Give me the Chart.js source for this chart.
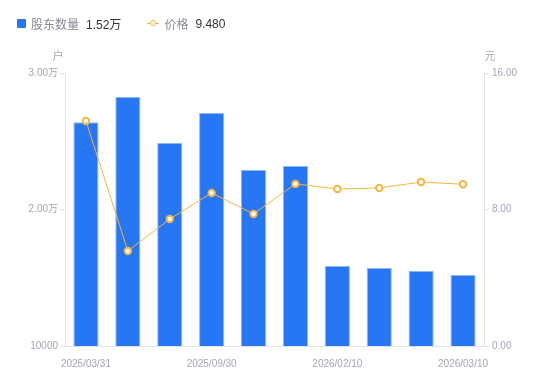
<!DOCTYPE html>
<html>
<head>
<meta charset="utf-8">
<script src="https://cdn.jsdelivr.net/npm/chart.js@4/dist/chart.umd.min.js"></script>
<style>
  body { margin: 0; background: #fff; font-family: "Liberation Sans", "Noto Sans CJK SC", sans-serif; }
  #wrap { position: relative; width: 550px; height: 381px; }
  #legend { position: absolute; left: 17px; top: 15px; font-size: 12px; color: #888a99; display: flex; align-items: center; }
  #legend .item { display: flex; align-items: center; margin-right: 26px; }
  #legend .sq { width: 9px; height: 9px; background: #2776f4; border-radius: 1px; margin-right: 5px; }
  #legend .ln { position: relative; width: 12px; height: 9px; margin-right: 5px; }
  #legend .ln:before { content: ''; position: absolute; left: 0; right: 0; top: 4px; height: 1px; background: #f5b540; }
  #legend .ln:after { content: ''; position: absolute; left: 3px; top: 1px; width: 4px; height: 4px; border: 1.5px solid #f5b540; border-radius: 50%; background: #fff; }
  #legend .val { color: #333; margin-left: 7px; }
</style>
</head>
<body>
<div id="wrap">
  <canvas id="c" width="550" height="381"></canvas>
  <div id="legend">
    <div class="item"><span class="sq"></span>股东数量<span class="val">1.52万</span></div>
    <div class="item"><span class="ln"></span>价格<span class="val">9.480</span></div>
  </div>
</div>
<script>
// 股东数量 / 价格
const dates = ['2025/03/31', '2025/06/30', '2025/08/20', '2025/09/30', '2025/10/31',
  '2025/12/31', '2026/02/10', '2026/02/20', '2026/02/28', '2026/03/10'];
const holders = [26400, 28250, 24870, 27070, 22900, 23190, 15860, 15710, 15500, 15200];
const prices = [13.19, 5.57, 7.44, 8.97, 7.74, 9.50, 9.20, 9.26, 9.61, 9.48];

const TICK = '#a3a5b3';
const AXIS = '#e2e3e8';
const FONT = '"Liberation Sans", "Noto Sans CJK SC", sans-serif';

const unitTitles = {
  id: 'unitTitles',
  afterDraw(chart) {
    const ctx = chart.ctx;
    const a = chart.chartArea;
    ctx.save();
    ctx.font = '11px ' + FONT;
    ctx.fillStyle = TICK;
    ctx.textAlign = 'center';
    ctx.textBaseline = 'middle';
    ctx.fillText('户', a.left - 7, a.top - 16);
    ctx.fillText('元', a.right + 6, a.top - 16);
    ctx.restore();
  }
};

new Chart(document.getElementById('c').getContext('2d'), {
  data: {
    labels: dates,
    datasets: [
      {
        type: 'line',
        label: '价格',
        data: prices,
        yAxisID: 'y1',
        borderColor: '#f5b540',
        borderWidth: 1,
        pointRadius: 3.2,
        pointBorderWidth: 2,
        pointBackgroundColor: '#fff',
        pointBorderColor: '#f5b540',
        tension: 0,
        order: 0
      },
      {
        type: 'bar',
        label: '股东数量',
        data: holders,
        yAxisID: 'y',
        backgroundColor: '#2776f4',
        borderColor: '#8db6f8',
        borderWidth: 1,
        barPercentage: 0.6,
        categoryPercentage: 1,
        order: 1
      }
    ]
  },
  options: {
    responsive: false,
    animation: false,
    layout: { padding: { top: 73, left: 0, right: 0, bottom: 0 } },
    plugins: { legend: { display: false }, tooltip: { enabled: false } },
    scales: {
      x: {
        offset: true,
        grid: { display: false },
        border: { color: AXIS },
        ticks: {
          color: TICK,
          font: { size: 10, family: FONT },
          autoSkip: false,
          maxRotation: 0,
          padding: 4,
          callback: (v, i) => (i % 3 === 0 ? dates[i] : '')
        },
        afterFit: s => { s.height = 35; }
      },
      y: {
        position: 'left',
        min: 10000,
        max: 30000,
        grid: { drawOnChartArea: false, color: AXIS, tickLength: 5 },
        border: { color: AXIS },
        ticks: {
          stepSize: 10000,
          color: TICK,
          padding: 2,
          font: { size: 10, family: FONT },
          callback: v => (v === 10000 ? '10000' : (v / 10000).toFixed(2) + '万')
        },
        afterFit: s => { s.width = 65; }
      },
      y1: {
        position: 'right',
        min: 0,
        max: 16,
        grid: { drawOnChartArea: false, color: AXIS, tickLength: 5 },
        border: { color: AXIS },
        ticks: {
          stepSize: 8,
          color: TICK,
          padding: 3,
          font: { size: 10, family: FONT },
          callback: v => v.toFixed(2)
        },
        afterFit: s => { s.width = 66; }
      }
    }
  },
  plugins: [unitTitles]
});
</script>
</body>
</html>
